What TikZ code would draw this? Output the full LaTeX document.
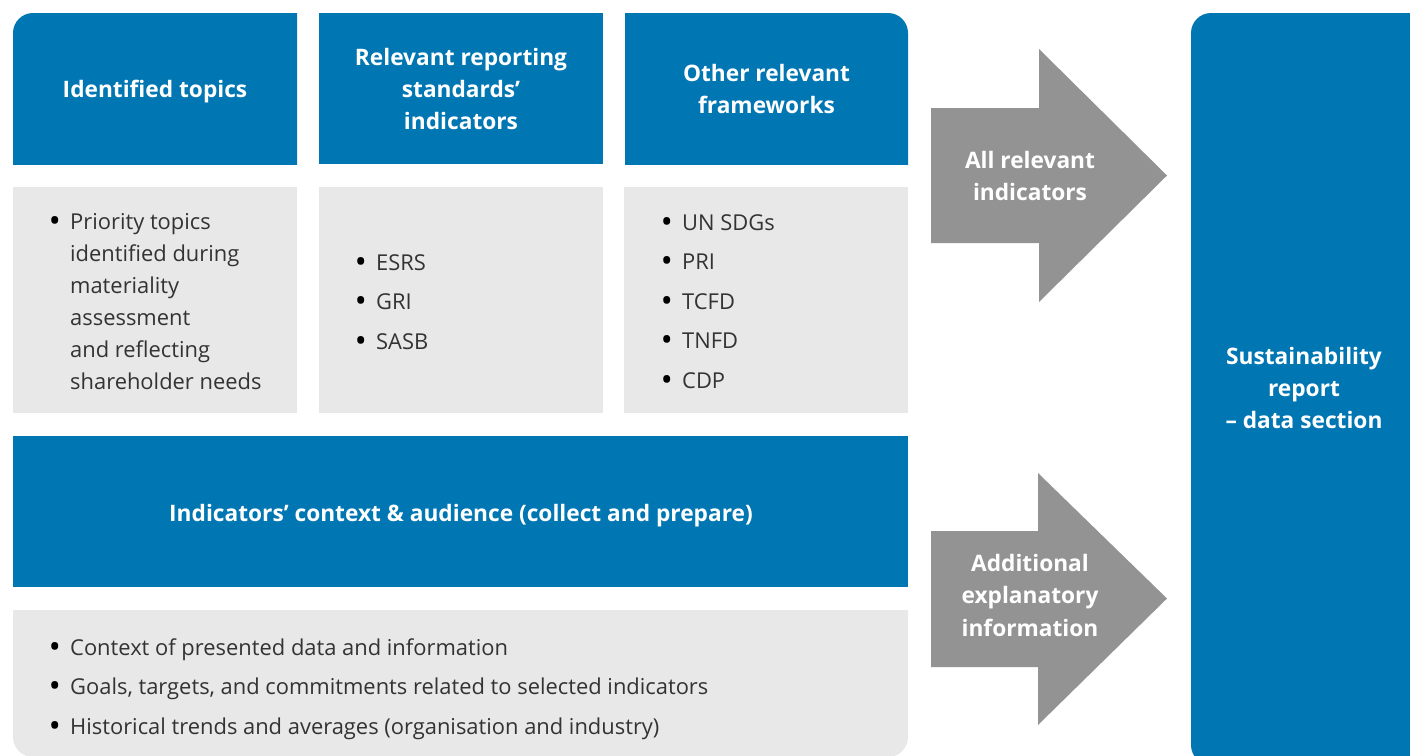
\documentclass[tikz,border=0pt]{standalone}
\usepackage{fontspec}
\setmainfont{Open Sans}
\definecolor{dblue}{RGB}{0,118,179}
\definecolor{lgray}{RGB}{232,232,232}
\definecolor{agray}{RGB}{147,147,147}
\definecolor{txtgray}{RGB}{51,51,51}
\newcommand{\bulmark}{\makebox[20pt][l]{\textcolor{black}{\fontsize{25}{32}\selectfont\bfseries •}}}
\tikzset{
  box/.style={inner sep=0pt, outer sep=0pt, draw=none},
  bluebox/.style={box, fill=dblue},
  graybox/.style={box, fill=lgray},
  roundtl/.style={box, path picture={\fill[dblue, rounded corners=20pt]
      (path picture bounding box.north west) rectangle
      ([shift={(40pt,-40pt)}]path picture bounding box.south east);}},
  roundtr/.style={box, path picture={\fill[dblue, rounded corners=20pt]
      ([shift={(-40pt,-40pt)}]path picture bounding box.south west) rectangle
      (path picture bounding box.north east);}},
  roundbot/.style={box, path picture={\fill[lgray, rounded corners=20pt]
      ([shift={(0pt,0pt)}]path picture bounding box.south west) rectangle
      ([shift={(0pt,40pt)}]path picture bounding box.north east);}},
  hd/.style={anchor=base, inner sep=0pt, text=white, font=\fontsize{22.7}{32}\selectfont\bfseries},
  bl/.style={anchor=base west, inner sep=0pt, text=txtgray, font=\fontsize{21.9}{32}\selectfont},
  arrowshape/.style={fill=agray, draw=none},
}
\begin{document}
\begin{tikzpicture}[x=1pt,y=-1pt]
\useasboundingbox (0,0) rectangle (1410,755);
\clip (0,0) rectangle (1410,755);

% header boxes
\node[roundtl, minimum width=284pt, minimum height=151pt] (h1) at (155,88.5) {};
\node[bluebox, minimum width=284pt, minimum height=151pt] (h2) at (461,88.5) {};
\node[roundtr, minimum width=283pt, minimum height=151pt] (h3) at (766.5,88.5) {};

\node[hd] (h1t) at (155,97) {Identified topics};
\node[hd] (h2t) at (461,65) {\begin{tabular}[t]{@{}c@{}}Relevant reporting\\standards’\\indicators\end{tabular}};
\node[hd] (h3t) at (766.5,81) {\begin{tabular}[t]{@{}c@{}}Other relevant\\frameworks\end{tabular}};

% gray boxes
\node[graybox, minimum width=284pt, minimum height=226pt] (g1) at (155,300) {};
\node[graybox, minimum width=284pt, minimum height=226pt] (g2) at (461,300) {};
\node[graybox, minimum width=284pt, minimum height=226pt] (g3) at (766,300) {};

\node[bl] (g1t) at (50,229) {\begin{tabular}[t]{@{}l@{}l@{}}
\bulmark & Priority topics\\
 & identified during\\
 & materiality\\
 & assessment\\
 & and reflecting\\
 & shareholder needs\end{tabular}};
\node[bl] (g2t) at (356,270) {\begin{tabular}[t]{@{}l@{}l@{}}
\bulmark & ESRS\\[7.5pt]
\bulmark & GRI\\[7.5pt]
\bulmark & SASB\end{tabular}};
\node[bl] (g3t) at (662,230) {\begin{tabular}[t]{@{}l@{}l@{}}
\bulmark & UN SDGs\\[7.5pt]
\bulmark & PRI\\[7.5pt]
\bulmark & TCFD\\[7.5pt]
\bulmark & TNFD\\[7.5pt]
\bulmark & CDP\end{tabular}};

% wide boxes
\node[bluebox, minimum width=895pt, minimum height=151pt] (wb) at (460.5,511.5) {};
\node[hd] (wbt) at (461,521) {Indicators’ context \& audience (collect and prepare)};

\node[roundbot, minimum width=895pt, minimum height=147pt] (wg) at (460.5,683.5) {};
\node[bl] (wgt) at (50,655) {\begin{tabular}[t]{@{}l@{}l@{}}
\bulmark & Context of presented data and information\\[7.5pt]
\bulmark & Goals, targets, and commitments related to selected indicators\\[7.5pt]
\bulmark & Historical trends and averages (organisation and industry)\end{tabular}};

% arrows
\fill[arrowshape] (931,108) -- (1039,108) -- (1039,49) -- (1167,175.5) -- (1039,302) -- (1039,243) -- (931,243) -- cycle;
\node[hd] (a1t) at (1030,168) {\begin{tabular}[t]{@{}c@{}}All relevant\\indicators\end{tabular}};

\fill[arrowshape] (931,531) -- (1038,531) -- (1038,473) -- (1167,598.5) -- (1038,725) -- (1038,667) -- (931,667) -- cycle;
\node[hd] (a2t) at (1030,571) {\begin{tabular}[t]{@{}c@{}}Additional\\[0.5pt]explanatory\\[0.5pt]information\end{tabular}};

% right box
\node[box, fill=dblue, rounded corners=20pt, minimum width=260pt, minimum height=752pt] (rb) at (1321,389) {};
\node[hd] (rbt) at (1304,364) {\begin{tabular}[t]{@{}c@{}}Sustainability\\report\\– data section\end{tabular}};
\end{tikzpicture}
\end{document}
